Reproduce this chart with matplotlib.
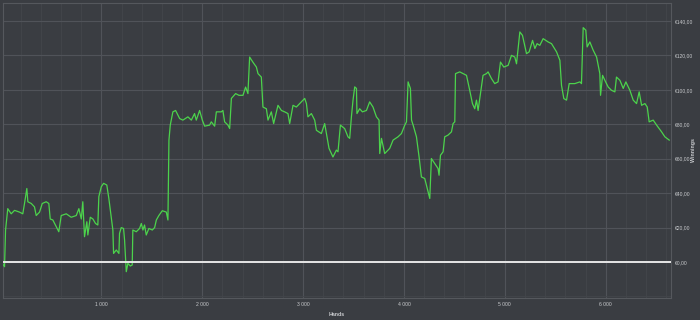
import matplotlib
matplotlib.use("Agg")
import matplotlib.pyplot as plt
from matplotlib.ticker import FuncFormatter, MultipleLocator, FixedLocator

# hands played vs cumulative winnings (EUR)
hands = [
    0, 17, 40, 50, 72, 106, 139, 188, 221, 238, 261, 271, 305, 337, 354, 387,
    414, 453, 479, 493, 519, 553, 578, 602, 652, 701, 751, 777, 801, 816, 833,
    856, 866, 890, 916, 942, 965, 975, 999, 1022, 1054, 1074, 1098, 1114, 1121,
    1148, 1174, 1180, 1197, 1220, 1230, 1247, 1263, 1287, 1306, 1312, 1346,
    1379, 1396, 1412, 1428, 1445, 1471, 1505, 1528, 1545, 1570, 1604, 1644,
    1660, 1670, 1683, 1709, 1736, 1776, 1808, 1858, 1892, 1924, 1941, 1974,
    2001, 2024, 2073, 2090, 2123, 2140, 2189, 2205, 2222, 2255, 2272, 2289,
    2331, 2364, 2404, 2430, 2453, 2470, 2503, 2537, 2553, 2586, 2602, 2636,
    2652, 2685, 2708, 2751, 2785, 2817, 2850, 2867, 2900, 2933, 2983, 3016,
    3033, 3048, 3082, 3115, 3132, 3181, 3214, 3231, 3257, 3296, 3330, 3346,
    3370, 3412, 3445, 3462, 3479, 3495, 3512, 3529, 3534, 3561, 3588, 3628,
    3660, 3693, 3727, 3753, 3760, 3777, 3809, 3859, 3892, 3941, 3975, 4008,
    4025, 4041, 4064, 4075, 4091, 4124, 4150, 4173, 4206, 4223, 4256, 4272,
    4305, 4338, 4348, 4362, 4388, 4404, 4437, 4471, 4487, 4504, 4511, 4553,
    4586, 4620, 4652, 4679, 4702, 4719, 4735, 4784, 4818, 4834, 4868, 4900,
    4933, 4957, 4990, 5033, 5066, 5099, 5116, 5149, 5175, 5215, 5241, 5275,
    5298, 5320, 5347, 5380, 5429, 5463, 5513, 5546, 5562, 5585, 5612, 5638,
    5694, 5744, 5760, 5777, 5803, 5816, 5843, 5876, 5910, 5942, 5949, 5969,
    5992, 6025, 6058, 6091, 6107, 6141, 6174, 6200, 6240, 6273, 6306, 6332,
    6356, 6389, 6412, 6431, 6471, 6505, 6554, 6587, 6630,
]
winnings = [
    0, -0.7, -2.7, 18.5, 31, 28, 30, 29, 28, 34, 42.7, 35, 34, 32, 27, 29,
    34, 35, 34, 25, 24.4, 20.5, 17.6, 27, 28, 26, 27, 31, 25, 35, 14.7,
    23.4, 15.7, 26, 25, 22.4, 21.5, 38, 43.7, 45.7, 44.7, 37, 26, 18.6, 5,
    7, 5, 16.6, 20, 19.5, 12.8, -5.6, -0.8, -2.3, -1.7, 18.6, 17.6,
    19.5, 22.4, 18.6, 21.5, 15.7, 19.5, 18.6, 20, 24.4, 27, 29.8, 29,
    24.4, 70.8, 79.5, 87.2, 88, 83.3, 82.4, 84.3, 82.4, 86.2, 82.4, 88,
    82.4, 78.9, 79.5, 81.4, 78.9, 87.2, 87.2, 88, 81.4, 79.5, 77.5, 95,
    97.8, 96.8, 96.8, 101.6, 97.8, 119, 116, 113.2, 109.4, 107.4, 90, 89,
    82.4, 87.2, 80.4, 91, 88, 87.2, 86.2, 80.4, 91, 90, 93, 95,
    92, 84.3, 86.2, 82.4, 76.5, 74.6, 80.4, 74.6, 66, 61, 65, 64,
    79.5, 77.5, 72.7, 71.8, 84.3, 94, 101.7, 100.8, 86.2, 89, 87.2, 88,
    93, 90, 84.3, 82.4, 63, 71.8, 63, 66, 70.8, 72.7, 74.6, 79.5,
    81.4, 104.6, 100.8, 82.4, 79.5, 72.7, 61, 49.4, 48.5, 44.6, 36.9, 60.1,
    57.2, 54.3, 50.4, 62, 64, 72.7, 73.7, 75.6, 80.4, 81.4, 109.4, 110.4,
    109.4, 108.4, 99.7, 92, 89, 94, 88, 108.4, 109.4, 110.4, 106.5, 103.6,
    104.6, 116.1, 113.2, 114.2, 120, 119, 115.1, 133.6, 131.6, 121, 122, 128.7,
    124, 126.8, 125.8, 129.7, 127.8, 126.8, 122, 117.1, 102.6, 94.9, 94, 103.6,
    103.6, 104.6, 103.6, 136.1, 134.6, 124.9, 127.8, 123, 119, 109.4, 96.8, 108.4,
    105.5, 101.6, 99.7, 98.8, 107.4, 105.5, 100.8, 104.6, 99.7, 94, 92, 98.8,
    91, 92, 90, 81.4, 82.4, 79.5, 75.6, 72.7, 70.8,
]
y_ticks = [0, 20, 40, 60, 80, 100, 120, 140]

BG = "#3a3d42"
TXT = "#c9cbce"

fig = plt.figure(figsize=(7, 3.2), dpi=100, facecolor=BG)
ax = fig.add_axes([0.0036, 0.0697, 0.9546, 0.922])
ax.set_facecolor(BG)

ax.plot(hands, winnings, color="#4cd34c", lw=0.9, zorder=3)
ax.axhline(0, color="#e6e6e6", lw=1.4, zorder=4)

ax.set_xlim(20, 6645)
ax.set_ylim(-20.7, 150.6)

ax.xaxis.set_major_locator(MultipleLocator(1000))
ax.xaxis.set_minor_locator(MultipleLocator(200))
ax.yaxis.set_major_locator(FixedLocator(y_ticks))
ax.yaxis.set_minor_locator(MultipleLocator(20))
ax.xaxis.set_major_formatter(FuncFormatter(lambda v, p: f"{int(v):,}".replace(",", " ")))
ax.yaxis.set_major_formatter(FuncFormatter(lambda v, p: "€" + f"{v:.2f}".replace(".", ",")))

# grid is quite subtle in the original
ax.grid(which="major", color="#505359", lw=0.8)
ax.grid(which="minor", color="#43464b", lw=0.6)
ax.set_axisbelow(True)

ax.yaxis.tick_right()
ax.tick_params(which="both", length=0, colors=TXT, labelsize=3.6, pad=3)
for lab in ax.get_xticklabels() + ax.get_yticklabels():
    lab.set_family("Liberation Sans")

for s in ax.spines.values():
    s.set_color("#55585d")
    s.set_linewidth(0.8)

ax.set_xlabel("Hands", color=TXT, fontsize=3.8, fontweight="bold", labelpad=4,
              family="Liberation Sans")
fig.text(693 / 700, 1 - 150 / 320, "Winnings", rotation=90, color=TXT, fontsize=3.8,
         fontweight="bold", family="Liberation Sans", ha="center", va="center")

fig.savefig("out.png", dpi=100, facecolor=BG)
